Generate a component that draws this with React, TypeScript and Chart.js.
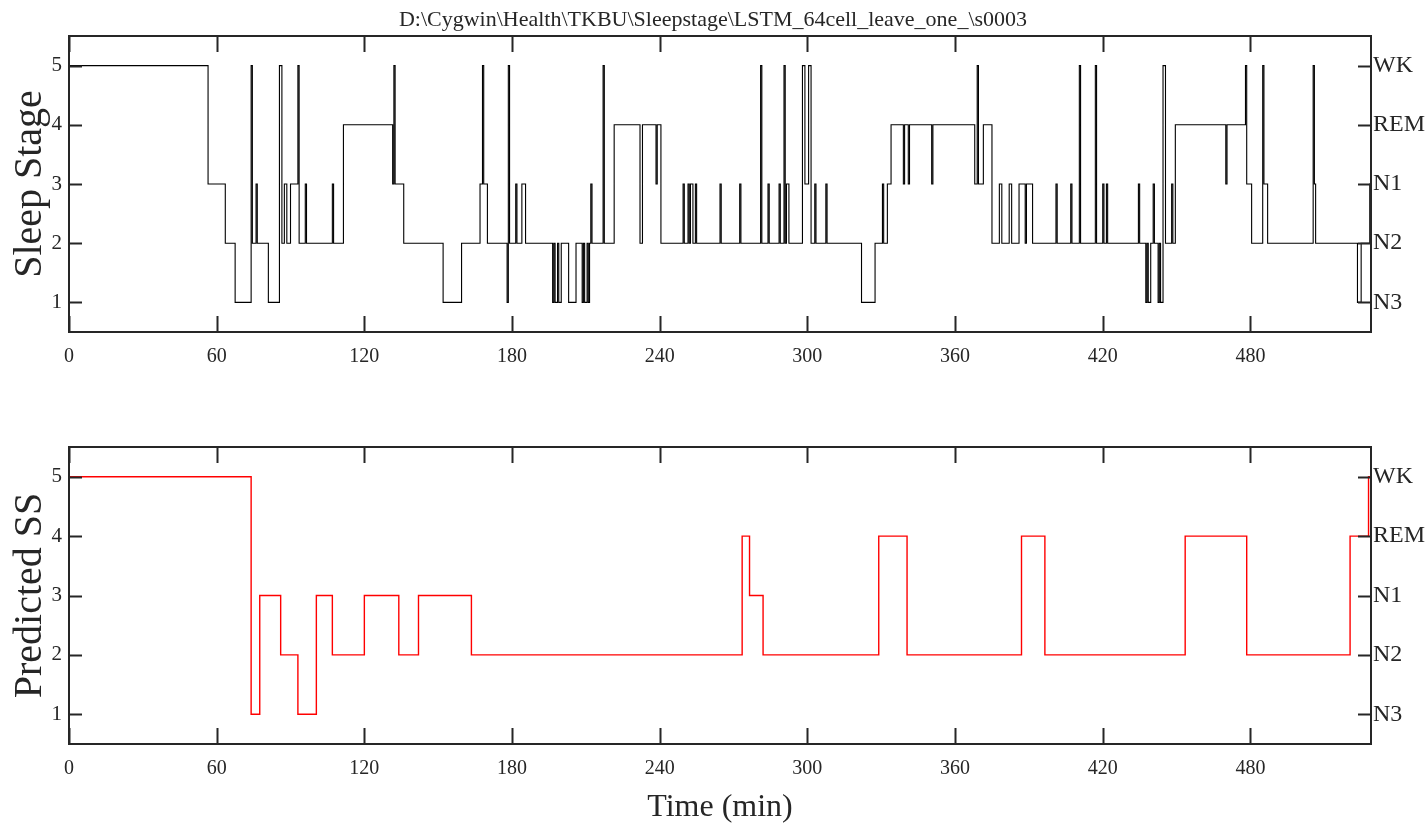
import React, { useEffect, useRef } from "react";
import { Chart, registerables } from "chart.js";

Chart.register(...registerables);

const chartTitle = "D:\\Cygwin\\Health\\TKBU\\Sleepstage\\LSTM_64cell_leave_one_\\s0003";
const xTickValues = [0, 60, 120, 180, 240, 300, 360, 420, 480];
const yTickValues = [1, 2, 3, 4, 5];
const stageLabels = ["N3", "N2", "N1", "REM", "WK"];
const recordEnd = 529;

// true hypnogram: time (min) where a stage starts, and the stage
const trueChangeTimes = [
  0, 56.5, 63.5, 67.5, 74, 74.5, 76, 76.5, 81, 85.5, 86.5, 87.5, 88.5, 90, 93, 93.5, 96, 96.5, 107, 107.5,
  111.5, 131.5, 132, 132.5, 136, 152, 159.5, 167, 168, 168.5, 170, 178, 178.5, 179, 181.5, 182, 184, 185.5,
  196.5, 197, 197.5, 198.5, 199, 200, 203, 206, 208.5, 209, 209.5, 210.5, 211, 211.5, 212, 212.5,
  217, 217.5, 221.5, 232, 233, 238.5, 239, 240.5, 249.5, 250, 251.5, 252, 252.5, 253.5, 254.5, 255,
  264.5, 265, 272.5, 273, 281, 281.5, 284, 284.5, 288.5, 289, 290.5, 291, 291.5, 292.5, 298, 299, 300.5, 301.5,
  303, 303.5, 307.5, 308, 322, 327.5, 330.5, 331, 332.5, 334, 339, 339.5, 341, 341.5, 350.5, 351, 368, 369,
  369.5, 371.5, 375, 378, 379, 382, 383, 386, 388.5, 389, 391.5, 401, 401.5, 407, 407.5, 410.5, 411, 417,
  417.5, 420, 420.5, 421.5, 422, 434.5, 435, 437.5, 438, 438.5, 439.5, 440.5, 441, 442.5, 443, 443.5, 444.5,
  445.5, 448, 448.5, 449.5, 470, 470.5, 478, 478.5, 480.5, 485, 485.5, 487, 505.5, 506, 506.5, 523.5, 525, 528.5,
];
const trueStages = [
  5, 3, 2, 1, 5, 2, 3, 2, 1, 5, 2, 3, 2, 3, 5, 2, 3, 2, 3, 2,
  4, 3, 5, 3, 2, 1, 2, 3, 5, 3, 2, 1, 5, 2, 3, 2, 3, 2,
  1, 2, 1, 2, 1, 2, 1, 2, 1, 2, 1, 2, 1, 2, 3, 2,
  5, 2, 4, 2, 4, 3, 4, 2, 3, 2, 3, 2, 3, 2, 3, 2,
  3, 2, 3, 2, 5, 2, 3, 2, 3, 2, 5, 2, 3, 2, 5, 3, 5, 2,
  3, 2, 3, 2, 1, 2, 3, 2, 3, 4, 3, 4, 3, 4, 3, 4, 3, 5,
  3, 4, 2, 3, 2, 3, 2, 3, 2, 3, 2, 3, 2, 3, 2, 5, 2, 5,
  2, 3, 2, 3, 2, 3, 2, 1, 2, 1, 2, 3, 2, 1, 2, 1, 5,
  2, 3, 2, 4, 3, 4, 5, 3, 2, 5, 3, 2, 5, 3, 2, 1, 2, 3,
];

// predicted hypnogram
const predChangeTimes = [0, 74, 77.5, 86, 93, 100.5, 107, 120, 134, 142, 163.5, 273.5, 276.5, 282, 329, 340.5, 387, 396.5, 453.5, 478.5, 520.5, 528];
const predStages = [5, 1, 3, 2, 1, 3, 2, 3, 2, 3, 2, 4, 3, 2, 4, 2, 4, 2, 4, 2, 4, 5];

const FONT = "'Liberation Serif', 'Times New Roman', serif";
const TEXT = "#262626";
const AXIS = "#262626";

function toPoints(times: number[], stages: number[]) {
  const pts = times.map((t, i) => ({ x: t, y: stages[i] }));
  pts.push({ x: recordEnd, y: stages[stages.length - 1] });
  return pts;
}

const framePlugin = {
  id: "frameTicks",
  afterDraw(chart: any) {
    const { ctx, chartArea, scales } = chart;
    const { left, right, top, bottom } = chartArea;
    ctx.save();
    ctx.strokeStyle = AXIS;
    ctx.lineWidth = 2;
    ctx.strokeRect(left, top, right - left, bottom - top);
    ctx.beginPath();
    xTickValues.forEach((v) => {
      const px = Math.round(scales.x.getPixelForValue(v)) + 0.5;
      ctx.moveTo(px, bottom);
      ctx.lineTo(px, bottom - 16);
      ctx.moveTo(px, top);
      ctx.lineTo(px, top + 16);
    });
    yTickValues.forEach((v) => {
      const py = Math.round(scales.y.getPixelForValue(v)) + 0.5;
      ctx.moveTo(left, py);
      ctx.lineTo(left + 13, py);
      ctx.moveTo(right, py);
      ctx.lineTo(right - 13, py);
    });
    ctx.stroke();
    ctx.restore();
  },
};

function makeOptions(yTitle: string, withTitle: boolean, xTitle: string | null, xHeight: number, topPad: number) {
  return {
    animation: false,
    responsive: false,
    events: [],
    layout: { padding: { top: topPad, left: 0, right: 0, bottom: 0 } },
    plugins: {
      legend: { display: false },
      tooltip: { enabled: false },
      title: {
        display: withTitle,
        text: chartTitle,
        color: TEXT,
        font: { family: FONT, size: 22, weight: "normal" },
        padding: { top: 7, bottom: 2.6 },
      },
    },
    scales: {
      x: {
        type: "linear",
        min: 0,
        max: recordEnd,
        afterBuildTicks: (s: any) => {
          s.ticks = xTickValues.map((v) => ({ value: v }));
        },
        afterFit: (s: any) => {
          s.height = xHeight;
        },
        ticks: {
          color: TEXT,
          font: { family: FONT, size: 20 },
          padding: 13,
          maxRotation: 0,
          autoSkip: false,
          callback: (v: any) => String(v),
        },
        grid: { display: false, drawTicks: false },
        border: { display: false },
        title: {
          display: !!xTitle,
          text: xTitle || "",
          color: TEXT,
          font: { family: FONT, size: 32 },
          padding: { top: 0, bottom: 2 },
        },
      },
      y: {
        position: "left",
        min: 0.5,
        max: 5.5,
        afterBuildTicks: (s: any) => {
          s.ticks = yTickValues.map((v) => ({ value: v }));
        },
        afterFit: (s: any) => {
          s.width = 69;
        },
        ticks: { color: TEXT, font: { family: FONT, size: 21 }, padding: 7, callback: (v: any) => String(v) },
        grid: { display: false, drawTicks: false },
        border: { display: false },
        title: {
          display: true,
          text: yTitle,
          color: TEXT,
          font: { family: FONT, size: 40 },
          padding: { top: 6, bottom: 0 },
        },
      },
      y2: {
        position: "right",
        min: 0.5,
        max: 5.5,
        afterBuildTicks: (s: any) => {
          s.ticks = yTickValues.map((v) => ({ value: v }));
        },
        afterFit: (s: any) => {
          s.width = 55;
        },
        ticks: {
          color: TEXT,
          font: { family: FONT, size: 24 },
          padding: 2,
          callback: (v: any) => stageLabels[Math.round(v) - 1],
        },
        grid: { display: false, drawTicks: false },
        border: { display: false },
      },
    },
  };
}

function Panel(props: {
  top: number;
  height: number;
  times: number[];
  stages: number[];
  color: string;
  width: number;
  yTitle: string;
  withTitle: boolean;
  xTitle: string | null;
  xHeight: number;
  topPad: number;
}) {
  const ref = useRef<HTMLCanvasElement | null>(null);
  useEffect(() => {
    if (!ref.current) return;
    const chart = new Chart(ref.current, {
      type: "line",
      data: {
        datasets: [
          {
            data: toPoints(props.times, props.stages),
            borderColor: props.color,
            borderWidth: props.width,
            pointRadius: 0,
            stepped: "before",
            fill: false,
            tension: 0,
          },
        ],
      },
      options: makeOptions(props.yTitle, props.withTitle, props.xTitle, props.xHeight, props.topPad) as any,
      plugins: [framePlugin],
    } as any);
    return () => chart.destroy();
  }, []);
  return (
    <canvas
      ref={ref}
      width={1426}
      height={props.height}
      style={{ position: "absolute", left: 0, top: props.top, width: 1426, height: props.height, display: "block" }}
    />
  );
}

export default function App() {
  return (
    <div style={{ position: "absolute", left: 0, top: 0, width: 1426, height: 829, background: "#fff" }}>
      <Panel
        top={0}
        height={400}
        times={trueChangeTimes}
        stages={trueStages}
        color="#000000"
        width={1.1}
        yTitle="Sleep Stage"
        withTitle={true}
        xTitle={null}
        xHeight={68}
        topPad={0}
      />
      <Panel
        top={400}
        height={429}
        times={predChangeTimes}
        stages={predStages}
        color="#ff0000"
        width={1.4}
        yTitle="Predicted SS"
        withTitle={false}
        xTitle="Time (min)"
        xHeight={85}
        topPad={47}
      />
    </div>
  );
}
